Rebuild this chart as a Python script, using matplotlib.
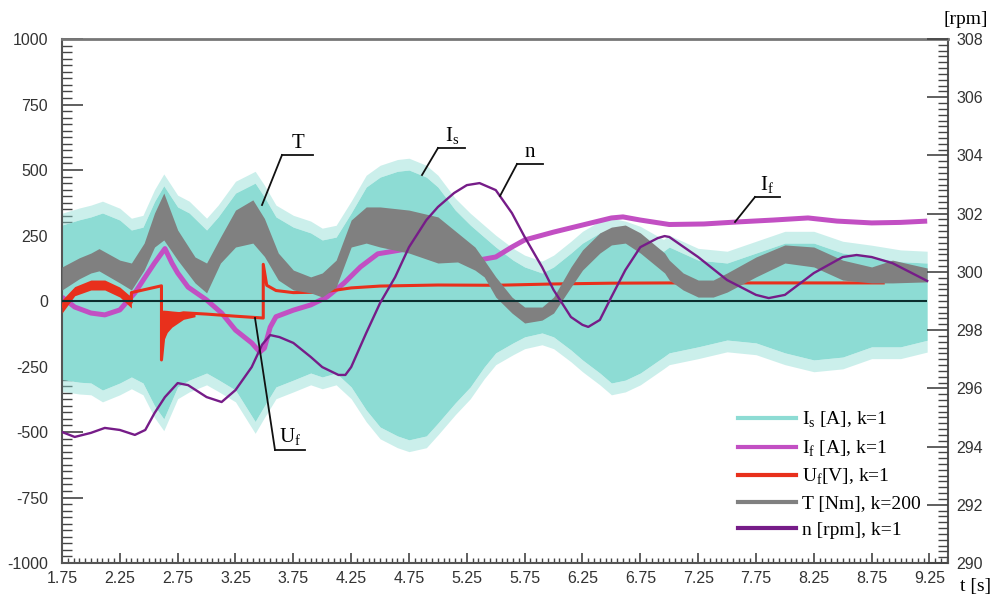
import matplotlib
matplotlib.use("Agg")
import matplotlib.pyplot as plt
from matplotlib.lines import Line2D
from matplotlib.ticker import MultipleLocator
import numpy as np

plt.rcParams['mathtext.fontset'] = 'custom'
plt.rcParams['mathtext.rm'] = 'Liberation Serif'
plt.rcParams['axes.unicode_minus'] = False

# stator current Is - envelope of the oscillation
is_t = [1.75, 1.9, 2.0, 2.1, 2.25, 2.35, 2.45, 2.55, 2.63, 2.75, 2.85, 3.0, 3.1, 3.25, 3.42,
        3.5, 3.6, 3.75, 3.9, 4.0, 4.12, 4.25, 4.38, 4.5, 4.65, 4.75, 4.9, 5.0, 5.15, 5.28,
        5.4, 5.5, 5.65, 5.75, 5.9, 6.0, 6.15, 6.25, 6.4, 6.5, 6.62, 6.75, 6.95, 7.0, 7.25,
        7.5, 7.75, 8.0, 8.25, 8.5, 8.75, 9.0, 9.23]
is_hi = [290, 310, 321, 336, 309, 271, 282, 380, 440, 359, 336, 271, 321, 412, 450,
         397, 321, 282, 260, 233, 244, 336, 435, 473, 495, 500, 473, 435, 347, 290,
         244, 206, 156, 130, 107, 130, 183, 221, 260, 271, 260, 240, 190, 206, 156,
         145, 183, 221, 221, 183, 168, 150, 145]
is_lo = [-300, -310, -313, -340, -313, -290, -313, -400, -450, -328, -302, -275, -300, -340, -460,
         -400, -328, -302, -275, -290, -275, -328, -416, -481, -515, -530, -515, -466, -389, -328,
         -252, -198, -160, -137, -122, -137, -187, -225, -275, -313, -302, -275, -214, -198, -175,
         -149, -160, -198, -225, -214, -175, -175, -150]

# torque T (k=200) - band
t_t = [1.75, 1.9, 2.0, 2.07, 2.25, 2.35, 2.46, 2.55, 2.63, 2.75, 2.9, 3.0, 3.12, 3.25, 3.4,
       3.5, 3.62, 3.75, 3.9, 4.0, 4.12, 4.25, 4.38, 4.5, 4.75, 5.0, 5.17, 5.32, 5.4, 5.5,
       5.64, 5.75, 5.9, 6.0, 6.15, 6.25, 6.4, 6.5, 6.62, 6.75, 6.96, 7.0, 7.12, 7.25, 7.38,
       7.5, 7.75, 8.0, 8.25, 8.5, 8.75, 8.93, 9.23]
t_hi = [130, 165, 183, 200, 156, 145, 221, 336, 412, 271, 168, 145, 244, 347, 386,
        315, 183, 118, 92, 107, 156, 309, 359, 359, 347, 321, 260, 206, 156, 92,
        15, -23, -23, 15, 130, 195, 260, 282, 290, 260, 183, 156, 107, 80, 80,
        107, 168, 214, 206, 156, 130, 156, 126]
t_lo = [42, 85, 107, 115, 69, 42, 118, 206, 233, 156, 69, 31, 145, 206, 221,
        170, 80, 42, 31, 15, 53, 206, 221, 206, 183, 145, 149, 118, 92, 15,
        -46, -84, -73, -46, 53, 118, 183, 214, 221, 183, 107, 80, 42, 15, 15,
        34, 92, 145, 130, 80, 69, 69, 73]

# field current If
if_t = [1.75, 1.86, 2.0, 2.12, 2.25, 2.38, 2.47, 2.55, 2.64, 2.7, 2.75, 2.84, 3.0, 3.13, 3.25,
        3.39, 3.46, 3.5, 3.55, 3.6, 3.75, 3.9, 4.04, 4.19, 4.33, 4.48, 4.75, 5.0, 5.2, 5.35,
        5.5, 5.64, 5.75, 6.0, 6.25, 6.5, 6.6, 6.75, 7.0, 7.3, 7.6, 7.9, 8.2, 8.45, 8.75,
        9.0, 9.23]
if_v = [15, -23, -46, -53, -34, 31, 92, 145, 200, 145, 107, 53, 4, -46, -111,
        -160, -195, -180, -100, -60, -35, -15, 15, 69, 130, 180, 200, 180, 160, 156,
        168, 206, 233, 263, 290, 317, 321, 309, 292, 294, 302, 309, 317, 305, 298,
        300, 305]

# field voltage Uf
uf_t = [1.75, 1.86, 2.0, 2.12, 2.25, 2.35, 2.35, 2.45, 2.61, 2.61, 2.64, 2.7, 2.8, 3.0, 3.25,
        3.49, 3.49, 3.52, 3.6, 3.75, 4.0, 4.25, 4.5, 5.0, 5.5, 6.0, 6.5, 7.0, 7.5, 8.0,
        8.5, 8.85]
uf_v = [-20, 40, 62, 62, 35, -5, 32, 42, 58, -225, -90, -55, -45, -50, -58,
        -65, 140, 60, 40, 32, 34, 50, 57, 61, 60, 65, 68, 69, 69, 69,
        69, 69]
# thick oscillating part of Uf at start
ufb_t = [1.75, 1.86, 2.0, 2.12, 2.25, 2.35]
ufb_hi = [4, 55, 80, 80, 53, 15]
ufb_lo = [-46, 20, 42, 42, 15, -27]
# oscillation after the step at 2.61 s
ufs_t = [2.61, 2.63, 2.66, 2.7, 2.75, 2.8, 2.9]
ufs_hi = [-35, -35, -36, -38, -40, -42, -45]
ufs_lo = [-225, -150, -120, -100, -85, -70, -60]

# speed n [rpm]
n_t = [1.75, 1.86, 2.0, 2.12, 2.25, 2.38, 2.47, 2.55, 2.64, 2.75, 2.84, 3.0, 3.13, 3.25, 3.39,
       3.48, 3.55, 3.63, 3.75, 3.9, 4.0, 4.14, 4.2, 4.25, 4.38, 4.5, 4.63, 4.75, 4.9, 5.0,
       5.14, 5.25, 5.36, 5.5, 5.64, 5.75, 5.9, 6.0, 6.15, 6.25, 6.3, 6.4, 6.5, 6.62, 6.75,
       6.9, 6.96, 7.0, 7.25, 7.5, 7.75, 7.86, 8.0, 8.25, 8.5, 8.62, 8.75, 8.93, 9.23]
n_v = [294.50, 294.33, 294.47, 294.64, 294.57, 294.40, 294.57, 295.15, 295.70, 296.18, 296.11, 295.70, 295.53, 295.94, 296.73,
       297.50, 297.83, 297.76, 297.56, 297.08, 296.73, 296.46, 296.46, 296.73, 297.90, 298.93, 299.82, 300.85, 301.78, 302.23,
       302.71, 302.98, 303.05, 302.81, 302.02, 301.20, 300.17, 299.38, 298.45, 298.18, 298.11, 298.35, 299.14, 300.06, 300.85,
       301.16, 301.23, 301.20, 300.51, 299.72, 299.21, 299.10, 299.21, 299.96, 300.51, 300.58, 300.51, 300.30, 299.69]

c_is = '#8ddcd4'
c_if = '#c24fc3'
c_uf = '#e8301c'
c_t = '#808080'
c_n = '#761c88'

W, H = 994, 596
fig = plt.figure(figsize=(9.94, 5.96), dpi=100)
ax = fig.add_axes([62 / W, 1 - 563 / H, (948 - 62) / W, (563 - 39) / H])
ax.set_axisbelow(True)

# Is: dense band plus a lighter fringe for the spiky edge
ax.fill_between(is_t, np.array(is_hi), np.array(is_hi) + 45, color=c_is, alpha=0.45, lw=0, zorder=1)
ax.fill_between(is_t, np.array(is_lo) - 45, np.array(is_lo), color=c_is, alpha=0.45, lw=0, zorder=1)
ax.fill_between(is_t, is_lo, is_hi, color=c_is, lw=0, zorder=1)
ax.plot(if_t, if_v, color=c_if, lw=3.6, solid_capstyle='butt', zorder=2)
ax.fill_between(ufb_t, ufb_lo, ufb_hi, color=c_uf, lw=0, zorder=3)
ax.fill_between(ufs_t, ufs_lo, ufs_hi, color=c_uf, lw=0, zorder=3)
ax.plot(uf_t, uf_v, color=c_uf, lw=2.2, zorder=3)
ax.fill_between(t_t, t_lo, t_hi, color=c_t, lw=0, zorder=4)
ax.hlines(0, 1.75, 9.23, color='#0b2e2e', lw=1.5, zorder=5)

ax.set_xlim(1.75, 9.41)
ax.set_ylim(-1000, 1000)
ax.set_xticks(np.arange(1.75, 9.26, 0.5))
ax.set_xticklabels(['%.2f' % v for v in np.arange(1.75, 9.26, 0.5)])
ax.xaxis.set_minor_locator(MultipleLocator(0.05))
ax.set_yticks(np.arange(-1000, 1001, 250))
ax.yaxis.set_minor_locator(MultipleLocator(25))

tick_family = 'Liberation Sans'
tick_size = 11.5
ax.tick_params(axis='y', which='major', direction='in', length=15, width=1.2, color='#444', pad=10)
ax.tick_params(axis='y', which='minor', direction='in', length=7, width=1.0, color='#444')
ax.tick_params(axis='x', which='major', direction='in', length=7, width=1.2, color='#444', pad=6)
ax.tick_params(axis='x', which='minor', direction='in', length=3.5, width=1.0, color='#444')
for lab in ax.get_xticklabels() + ax.get_yticklabels():
    lab.set_fontfamily(tick_family)
    lab.set_fontsize(tick_size)
    lab.set_color('#333')

for s in ax.spines.values():
    s.set_color('#555')
    s.set_linewidth(1.5)
ax.spines['top'].set_color('#777')
ax.spines['top'].set_linewidth(2)

ax2 = ax.twinx()
ax2.plot(n_t, n_v, color=c_n, lw=1.7, zorder=6)
ax2.set_ylim(290, 308)
ax2.set_yticks(np.arange(290, 309, 2))
ax2.yaxis.set_minor_locator(MultipleLocator(0.2))
ax2.tick_params(axis='y', which='major', direction='in', length=15, width=1.2, color='#444', pad=6)
ax2.tick_params(axis='y', which='minor', direction='in', length=7, width=1.0, color='#444')
for lab in ax2.get_yticklabels():
    lab.set_fontfamily(tick_family)
    lab.set_fontsize(tick_size)
    lab.set_color('#333')
for s in ax2.spines.values():
    s.set_visible(False)

serif = 'Liberation Serif'

def px(x, y):
    return x / W, 1 - y / H

def label(text, tx, ty, ul, leader):
    # text position, underline (x0, x1, y), leader end point
    fig.text(*px(tx, ty), text, family=serif, size=15, ha='center', va='bottom')
    x0, x1, y = ul
    fig.add_artist(Line2D([x0 / W, x1 / W], [1 - y / H, 1 - y / H], color='#111', lw=1.3))
    fig.add_artist(Line2D([x0 / W, leader[0] / W], [1 - y / H, 1 - leader[1] / H], color='#111', lw=1.3))

label('T', 298, 153, (282, 313, 155), (262, 205))
label(r'I$_{\mathrm{s}}$', 452, 147, (438, 465, 148), (422, 175))
label('n', 530, 162, (517, 543, 164), (500, 196))
label(r'I$_{\mathrm{f}}$', 767, 196, (755, 780, 197), (735, 222))
label(r'U$_{\mathrm{f}}$', 290, 448, (275, 305, 450), (255, 318))

handles = [Line2D([], [], color=c, lw=3) for c in [c_is, c_if, c_uf, c_t, c_n]]
names = [r'I$_{\mathrm{s}}$ [A], k=1', r'I$_{\mathrm{f}}$ [A], k=1', r'U$_{\mathrm{f}}$[V], k=1',
         'T [Nm], k=200', 'n [rpm], k=1']
ax2.legend(handles, names, loc='upper left', bbox_to_anchor=px(738, 410),
           bbox_transform=fig.transFigure, frameon=False, borderpad=0, borderaxespad=0,
           handlelength=3.0, handletextpad=0.3, labelspacing=0.42,
           prop={'family': serif, 'size': 14})

fig.text(*px(966, 20), '[rpm]', family=serif, size=14, ha='center', va='center')
fig.text(*px(976, 587), 't [s]', family=serif, size=14, ha='center', va='center')

fig.savefig('out.png', dpi=100)
